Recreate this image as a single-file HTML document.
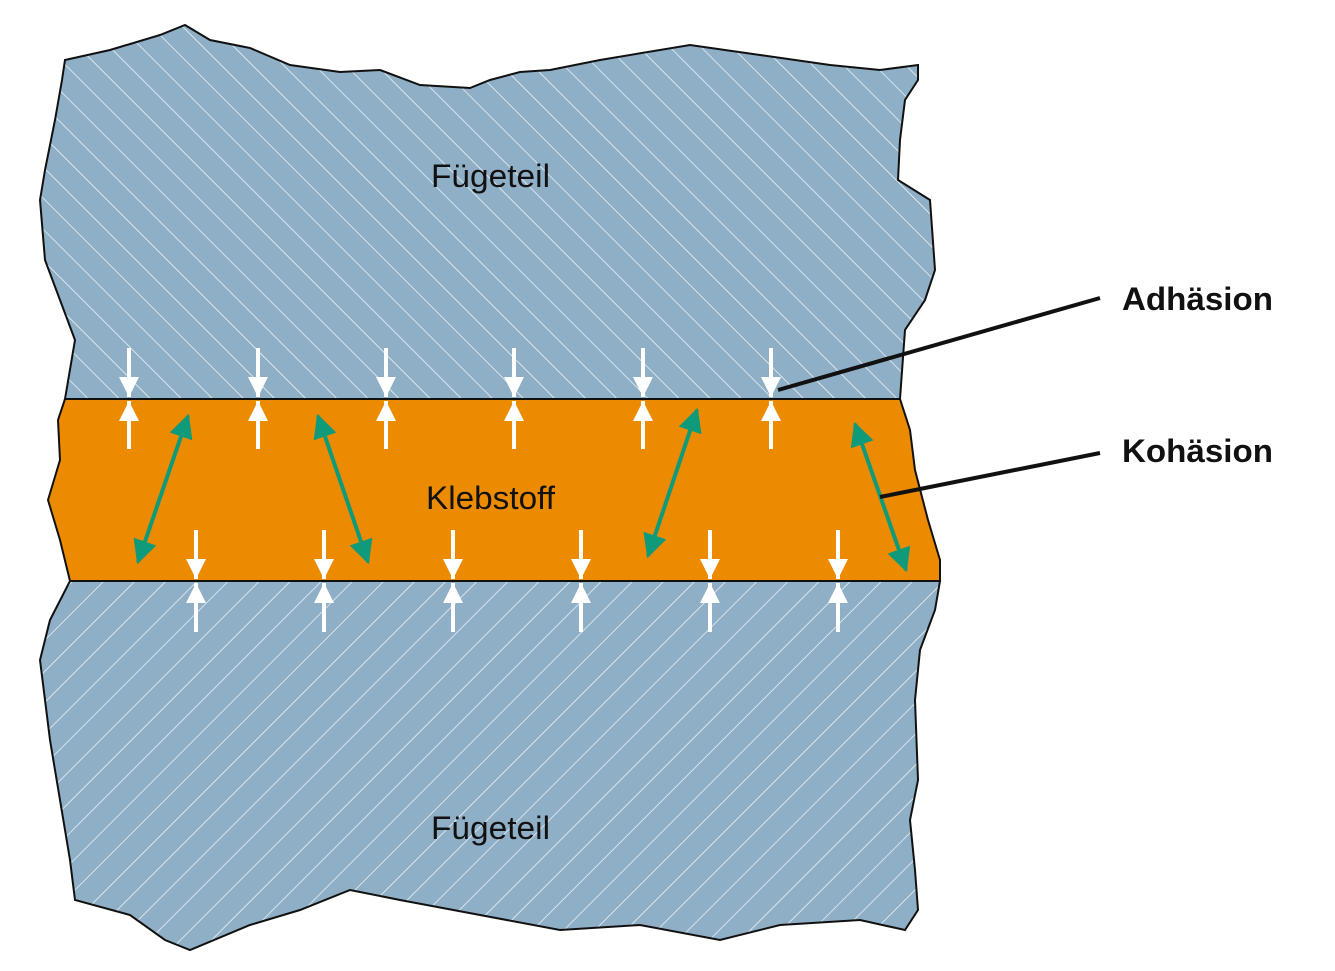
<!DOCTYPE html>
<html><head><meta charset="utf-8"><style>body{margin:0;background:#fff}svg{display:block}</style></head><body>
<svg width="1335" height="971" viewBox="0 0 1335 971" xmlns="http://www.w3.org/2000/svg">
<defs>
<pattern id="h1" width="22" height="22" patternUnits="userSpaceOnUse" patternTransform="rotate(-45)">
<rect width="22" height="22" fill="#8fafc6"/><line x1="0" y1="0" x2="0" y2="22" stroke="#fff" stroke-width="1.3"/></pattern>
<pattern id="h2" width="22" height="22" patternUnits="userSpaceOnUse" patternTransform="rotate(45)">
<rect width="22" height="22" fill="#8fafc6"/><line x1="0" y1="0" x2="0" y2="22" stroke="#fff" stroke-width="1.3"/></pattern>
<marker id="wa" viewBox="0 0 10 10" refX="10" refY="5" markerWidth="5" markerHeight="5" orient="auto" markerUnits="strokeWidth"><path d="M0,0 L10,5 L0,10 z" fill="#fff"/></marker>
<marker id="ga" viewBox="0 0 10 10" refX="9" refY="5" markerWidth="6" markerHeight="6" orient="auto-start-reverse" markerUnits="strokeWidth"><path d="M0,0 L10,5 L0,10 z" fill="#0f9a7a"/></marker>
</defs>
<path d="M65,60 L110,50 160,35 185,25 210,40 250,48 290,65 340,72 380,70 420,85 470,88 490,80 520,72 550,70 600,60 690,45 760,55 830,65 880,70 918,65 918,80 905,100 900,140 898,180 930,200 935,270 925,300 905,330 900,399 65,399 75,340 60,300 45,260 40,200 45,170 55,120 62,80 Z" fill="url(#h1)" stroke="#111" stroke-width="2"/>
<path d="M70,581 L940,581 935,610 920,650 915,700 918,780 910,820 915,870 918,910 905,930 860,920 780,925 720,940 640,925 560,930 480,915 400,900 350,890 300,910 250,925 190,950 165,940 130,915 75,900 70,860 60,800 50,740 40,660 50,620 Z" fill="url(#h2)" stroke="#111" stroke-width="2"/>
<path d="M65,399 L900,399 910,430 915,470 928,520 940,560 940,581 70,581 60,540 48,500 60,460 58,420 Z" fill="#ec8b00" stroke="#111" stroke-width="2"/>
<g stroke="#fff" stroke-width="4">
<line x1="129" y1="348" x2="129" y2="397" marker-end="url(#wa)"/><line x1="129" y1="449" x2="129" y2="401" marker-end="url(#wa)"/>
<line x1="258" y1="348" x2="258" y2="397" marker-end="url(#wa)"/><line x1="258" y1="449" x2="258" y2="401" marker-end="url(#wa)"/>
<line x1="386" y1="348" x2="386" y2="397" marker-end="url(#wa)"/><line x1="386" y1="449" x2="386" y2="401" marker-end="url(#wa)"/>
<line x1="514" y1="348" x2="514" y2="397" marker-end="url(#wa)"/><line x1="514" y1="449" x2="514" y2="401" marker-end="url(#wa)"/>
<line x1="643" y1="348" x2="643" y2="397" marker-end="url(#wa)"/><line x1="643" y1="449" x2="643" y2="401" marker-end="url(#wa)"/>
<line x1="771" y1="348" x2="771" y2="397" marker-end="url(#wa)"/><line x1="771" y1="449" x2="771" y2="401" marker-end="url(#wa)"/>
<line x1="196" y1="530" x2="196" y2="579" marker-end="url(#wa)"/><line x1="196" y1="632" x2="196" y2="583" marker-end="url(#wa)"/>
<line x1="324" y1="530" x2="324" y2="579" marker-end="url(#wa)"/><line x1="324" y1="632" x2="324" y2="583" marker-end="url(#wa)"/>
<line x1="453" y1="530" x2="453" y2="579" marker-end="url(#wa)"/><line x1="453" y1="632" x2="453" y2="583" marker-end="url(#wa)"/>
<line x1="581" y1="530" x2="581" y2="579" marker-end="url(#wa)"/><line x1="581" y1="632" x2="581" y2="583" marker-end="url(#wa)"/>
<line x1="710" y1="530" x2="710" y2="579" marker-end="url(#wa)"/><line x1="710" y1="632" x2="710" y2="583" marker-end="url(#wa)"/>
<line x1="838" y1="530" x2="838" y2="579" marker-end="url(#wa)"/><line x1="838" y1="632" x2="838" y2="583" marker-end="url(#wa)"/>
</g>
<g stroke="#0f9a7a" stroke-width="4" marker-start="url(#ga)" marker-end="url(#ga)">
<line x1="188" y1="416" x2="138" y2="562"/>
<line x1="318" y1="416" x2="368" y2="562"/>
<line x1="697" y1="410" x2="648" y2="556"/>
<line x1="855" y1="424" x2="906" y2="570"/>
</g>
<g stroke="#111" stroke-width="4">
<line x1="778" y1="390" x2="1100" y2="298"/>
<line x1="880" y1="497" x2="1100" y2="453"/>
</g>
<g font-family="Liberation Sans, sans-serif" fill="#111">
<text x="431" y="187" font-size="32" textLength="119" lengthAdjust="spacingAndGlyphs">Fügeteil</text>
<text x="426" y="509" font-size="32" textLength="129" lengthAdjust="spacingAndGlyphs">Klebstoff</text>
<text x="431" y="839" font-size="32" textLength="119" lengthAdjust="spacingAndGlyphs">Fügeteil</text>
<text x="1122" y="310" font-size="32" font-weight="bold" textLength="151" lengthAdjust="spacingAndGlyphs">Adhäsion</text>
<text x="1122" y="462" font-size="32" font-weight="bold" textLength="151" lengthAdjust="spacingAndGlyphs">Kohäsion</text>
</g>
</svg>
</body></html>
